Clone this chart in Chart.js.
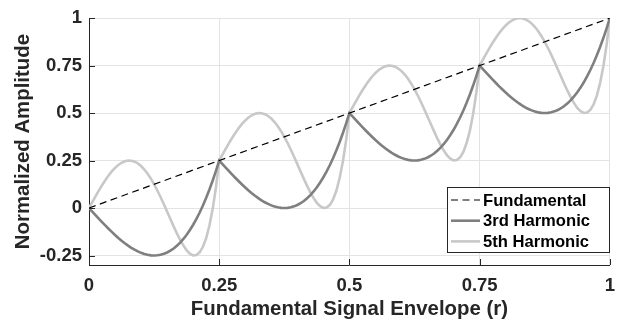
<!DOCTYPE html>
<html lang="en">
<head>
    <meta charset="UTF-8">
    <title>Harmonic amplitude vs. envelope</title>
    <script src="https://cdn.jsdelivr.net/npm/chart.js"></script>
    <style>
        body {
            margin: 0;
            background: #fff;
        }
        #wrap {
            position: relative;
            width: 625px;
            height: 327px;
        }
    </style>
</head>
<body>
    <div id="wrap"><canvas id="harmChart"></canvas></div>

    <script>
        // envelope samples (r)
        const r = [
            0, 0.00625, 0.0125, 0.01875, 0.025, 0.03125, 0.0375, 0.04375, 0.05, 0.05625, 0.0625, 0.06875, 0.075, 0.08125, 0.0875, 0.09375, 0.1, 0.10625, 0.1125, 0.11875,
            0.125, 0.13125, 0.1375, 0.14375, 0.15, 0.15625, 0.1625, 0.16875, 0.175, 0.18125, 0.1875, 0.19375, 0.2, 0.20625, 0.2125, 0.21875, 0.225, 0.23125, 0.2375, 0.24375, 0.25,
            0.25625, 0.2625, 0.26875, 0.275, 0.28125, 0.2875, 0.29375, 0.3, 0.30625, 0.3125, 0.31875, 0.325, 0.33125, 0.3375, 0.34375, 0.35, 0.35625, 0.3625, 0.36875, 0.375,
            0.38125, 0.3875, 0.39375, 0.4, 0.40625, 0.4125, 0.41875, 0.425, 0.43125, 0.4375, 0.44375, 0.45, 0.45625, 0.4625, 0.46875, 0.475, 0.48125, 0.4875, 0.49375, 0.5,
            0.50625, 0.5125, 0.51875, 0.525, 0.53125, 0.5375, 0.54375, 0.55, 0.55625, 0.5625, 0.56875, 0.575, 0.58125, 0.5875, 0.59375, 0.6, 0.60625, 0.6125, 0.61875, 0.625,
            0.63125, 0.6375, 0.64375, 0.65, 0.65625, 0.6625, 0.66875, 0.675, 0.68125, 0.6875, 0.69375, 0.7, 0.70625, 0.7125, 0.71875, 0.725, 0.73125, 0.7375, 0.74375, 0.75,
            0.75625, 0.7625, 0.76875, 0.775, 0.78125, 0.7875, 0.79375, 0.8, 0.80625, 0.8125, 0.81875, 0.825, 0.83125, 0.8375, 0.84375, 0.85, 0.85625, 0.8625, 0.86875, 0.875,
            0.88125, 0.8875, 0.89375, 0.9, 0.90625, 0.9125, 0.91875, 0.925, 0.93125, 0.9375, 0.94375, 0.95, 0.95625, 0.9625, 0.96875, 0.975, 0.98125, 0.9875, 0.99375, 1
        ];

        const third = [
            0, -0.0187, -0.0374, -0.0558, -0.074, -0.0918, -0.1091, -0.1259, -0.142, -0.1574, -0.1719, -0.1855, -0.198, -0.2094, -0.2196, -0.2285, -0.236, -0.242, -0.2464, -0.2491,
            -0.25, -0.249, -0.2461, -0.2411, -0.234, -0.2246, -0.2129, -0.1987, -0.182, -0.1627, -0.1406, -0.1158, -0.088, -0.0572, -0.0234, 0.0137, 0.054, 0.0977, 0.1449, 0.1956, 0.25,
            0.2313, 0.2126, 0.1942, 0.176, 0.1582, 0.1409, 0.1241, 0.108, 0.0926, 0.0781, 0.0645, 0.052, 0.0406, 0.0304, 0.0215, 0.014, 0.008, 0.0036, 0.0009, 0,
            0.001, 0.0039, 0.0089, 0.016, 0.0254, 0.0371, 0.0513, 0.068, 0.0873, 0.1094, 0.1342, 0.162, 0.1928, 0.2266, 0.2637, 0.304, 0.3477, 0.3949, 0.4456, 0.5,
            0.4813, 0.4626, 0.4442, 0.426, 0.4082, 0.3909, 0.3741, 0.358, 0.3426, 0.3281, 0.3145, 0.302, 0.2906, 0.2804, 0.2715, 0.264, 0.258, 0.2536, 0.2509, 0.25,
            0.251, 0.2539, 0.2589, 0.266, 0.2754, 0.2871, 0.3013, 0.318, 0.3373, 0.3594, 0.3842, 0.412, 0.4428, 0.4766, 0.5137, 0.554, 0.5977, 0.6449, 0.6956, 0.75,
            0.7313, 0.7126, 0.6942, 0.676, 0.6582, 0.6409, 0.6241, 0.608, 0.5926, 0.5781, 0.5645, 0.552, 0.5406, 0.5304, 0.5215, 0.514, 0.508, 0.5036, 0.5009, 0.5,
            0.501, 0.5039, 0.5089, 0.516, 0.5254, 0.5371, 0.5513, 0.568, 0.5873, 0.6094, 0.6342, 0.662, 0.6928, 0.7266, 0.7637, 0.804, 0.8477, 0.8949, 0.9456, 1
        ];

        const fifth = [
            0, 0.0312, 0.0619, 0.0917, 0.12, 0.1466, 0.1709, 0.1926, 0.2113, 0.2266, 0.2383, 0.2461, 0.2497, 0.2491, 0.2441, 0.2347, 0.221, 0.2029, 0.1807, 0.1546,
            0.125, 0.0923, 0.0569, 0.0196, -0.019, -0.058, -0.0965, -0.1335, -0.1677, -0.1979, -0.2227, -0.2403, -0.2493, -0.2476, -0.2333, -0.2042, -0.158, -0.0923, -0.0043, 0.1088, 0.25,
            0.2812, 0.3119, 0.3417, 0.37, 0.3966, 0.4209, 0.4426, 0.4613, 0.4766, 0.4883, 0.4961, 0.4997, 0.4991, 0.4941, 0.4847, 0.471, 0.4529, 0.4307, 0.4046, 0.375,
            0.3423, 0.3069, 0.2696, 0.231, 0.192, 0.1535, 0.1165, 0.0823, 0.0521, 0.0273, 0.0097, 0.0007, 0.0024, 0.0167, 0.0458, 0.092, 0.1577, 0.2457, 0.3588, 0.5,
            0.5312, 0.5619, 0.5917, 0.62, 0.6466, 0.6709, 0.6926, 0.7113, 0.7266, 0.7383, 0.7461, 0.7497, 0.7491, 0.7441, 0.7347, 0.721, 0.7029, 0.6807, 0.6546, 0.625,
            0.5923, 0.5569, 0.5196, 0.481, 0.442, 0.4035, 0.3665, 0.3323, 0.3021, 0.2773, 0.2597, 0.2507, 0.2524, 0.2667, 0.2958, 0.342, 0.4077, 0.4957, 0.6088, 0.75,
            0.7812, 0.8119, 0.8417, 0.87, 0.8966, 0.9209, 0.9426, 0.9613, 0.9766, 0.9883, 0.9961, 0.9997, 0.9991, 0.9941, 0.9847, 0.971, 0.9529, 0.9307, 0.9046, 0.875,
            0.8423, 0.8069, 0.7696, 0.731, 0.692, 0.6535, 0.6165, 0.5823, 0.5521, 0.5273, 0.5097, 0.5007, 0.5024, 0.5167, 0.5458, 0.592, 0.6577, 0.7457, 0.8588, 1
        ];

        // fundamental is a straight line from (0,0) to (1,1)
        const fundR = [0, 1];
        const fundY = [0, 1];

        const xTicks = [0, 0.25, 0.5, 0.75, 1];
        const yTicks = [-0.25, 0, 0.25, 0.5, 0.75, 1];

        const axisColor = '#262626';
        const tickFont = { family: 'Liberation Sans', size: 18.5, weight: 'bold' };
        const titleFont = { family: 'Liberation Sans', size: 20.4, weight: 'bold' };

        const toPts = (xs, ys) => xs.map((x, i) => ({ x: x, y: ys[i] }));

        // inward tick marks, MATLAB style
        const innerTicks = {
            id: 'innerTicks',
            afterDatasetsDraw(chart) {
                const { ctx, chartArea, scales } = chart;
                ctx.save();
                ctx.strokeStyle = axisColor;
                ctx.lineWidth = 1;
                ctx.beginPath();
                xTicks.forEach(v => {
                    const x = Math.round(scales.x.getPixelForValue(v)) + 0.5;
                    ctx.moveTo(x, chartArea.bottom);
                    ctx.lineTo(x, chartArea.bottom - 6);
                });
                yTicks.forEach(v => {
                    const y = Math.round(scales.y.getPixelForValue(v)) + 0.5;
                    ctx.moveTo(chartArea.left, y);
                    ctx.lineTo(chartArea.left + 6, y);
                });
                ctx.stroke();
                ctx.restore();
            }
        };

        // boxed legend in the lower right corner of the plot
        const boxLegend = {
            id: 'boxLegend',
            afterDraw(chart) {
                const ctx = chart.ctx;
                const bx = 447, by = 187, bw = 162, bh = 65;
                ctx.save();
                ctx.fillStyle = '#fff';
                ctx.fillRect(bx, by, bw, bh);
                ctx.strokeStyle = axisColor;
                ctx.lineWidth = 1;
                ctx.strokeRect(bx + 0.5, by + 0.5, bw, bh);
                ctx.font = 'bold 16.6px "Liberation Sans"';
                ctx.textBaseline = 'middle';
                chart.data.datasets.forEach((ds, i) => {
                    const y = by + 13 + i * 20.7;
                    ctx.strokeStyle = ds.borderColor;
                    ctx.lineWidth = ds.borderWidth;
                    ctx.setLineDash(ds.borderDash || []);
                    ctx.beginPath();
                    ctx.moveTo(bx + 4, y);
                    ctx.lineTo(bx + 33, y);
                    ctx.stroke();
                    ctx.setLineDash([]);
                    ctx.fillStyle = '#000';
                    ctx.fillText(ds.label, bx + 36, y + 1);
                });
                ctx.restore();
            }
        };

        const ctx = document.getElementById('harmChart').getContext('2d');

        new Chart(ctx, {
            type: 'line',
            data: {
                datasets: [
                    {
                        label: 'Fundamental',
                        data: toPts(fundR, fundY),
                        borderColor: '#000',
                        borderWidth: 1.2,
                        borderDash: [7, 4.5]
                    },
                    {
                        label: '3rd Harmonic',
                        data: toPts(r, third),
                        borderColor: '#7f7f7f',
                        borderWidth: 2.6
                    },
                    {
                        label: '5th Harmonic',
                        data: toPts(r, fifth),
                        borderColor: '#c8c8c8',
                        borderWidth: 2.6
                    }
                ]
            },
            options: {
                responsive: true,
                maintainAspectRatio: false,
                animation: false,
                layout: { padding: { left: 0, top: 9, right: 14, bottom: 0 } },
                elements: {
                    point: { radius: 0 },
                    line: { tension: 0, fill: false, borderCapStyle: 'butt' }
                },
                scales: {
                    x: {
                        type: 'linear',
                        min: 0,
                        max: 1,
                        afterBuildTicks: s => { s.ticks = xTicks.map(v => ({ value: v })); },
                        afterFit: s => { s.height = 62; },
                        grid: { color: '#e3e3e3', drawTicks: false },
                        border: { color: axisColor, width: 1 },
                        ticks: {
                            color: axisColor,
                            font: tickFont,
                            padding: 10,
                            maxRotation: 0,
                            callback: v => String(v)
                        },
                        title: {
                            display: true,
                            text: 'Fundamental Signal Envelope (r)',
                            color: axisColor,
                            font: titleFont,
                            padding: { top: 0, bottom: 5 }
                        }
                    },
                    y: {
                        type: 'linear',
                        min: -0.3,
                        max: 1,
                        afterBuildTicks: s => { s.ticks = yTicks.map(v => ({ value: v })); },
                        afterFit: s => { s.width = 89; },
                        grid: { color: '#e3e3e3', drawTicks: false },
                        border: { color: axisColor, width: 1 },
                        ticks: {
                            color: axisColor,
                            font: tickFont,
                            padding: 7,
                            callback: v => String(v)
                        },
                        title: {
                            display: true,
                            text: 'Normalized Amplitude',
                            color: axisColor,
                            font: titleFont,
                            padding: { top: 11, bottom: 0 }
                        }
                    }
                },
                plugins: {
                    legend: { display: false },
                    tooltip: { enabled: false }
                }
            },
            plugins: [innerTicks, boxLegend]
        });
    </script>
</body>
</html>
